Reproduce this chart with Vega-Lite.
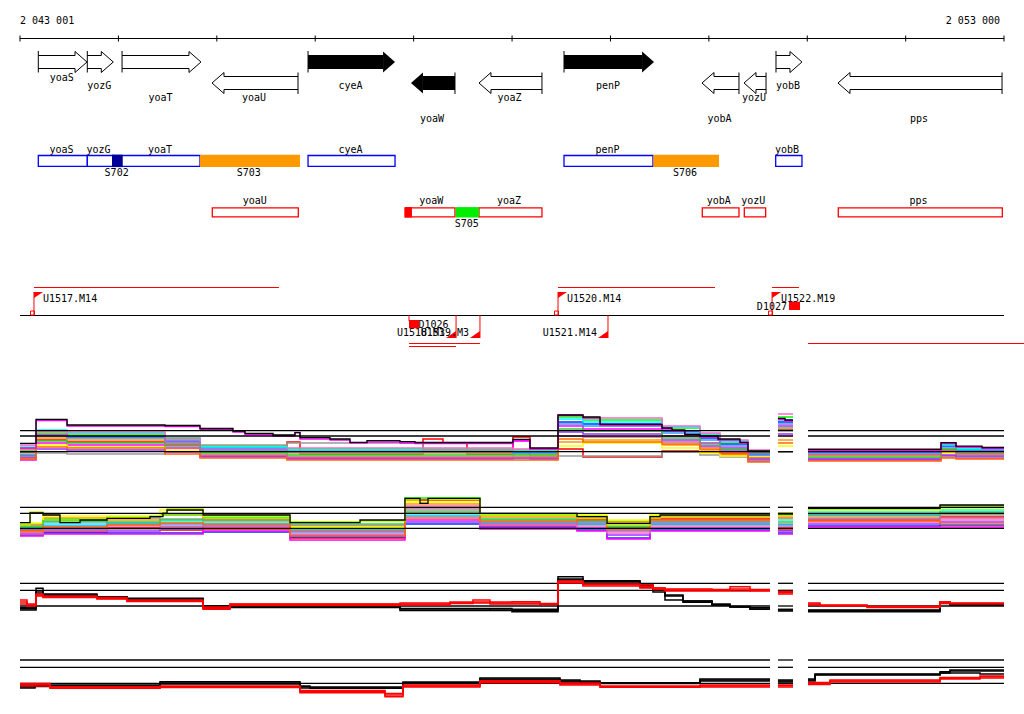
{
"$schema":"https://vega.github.io/schema/vega-lite/v6.json",
"width":1024,"height":714,"padding":0,"autosize":{"type":"none"},
"background":"white",
"config":{"view":{"stroke":null},"text":{"font":"DejaVu Sans Mono","fontSize":10,"color":"black"},"line":{"opacity":1}},
"datasets":{
"axis":[{"x":2043001,"x2":2053000}],
"ticks":[{"x":2043001},{"x":2044001},{"x":2045001},{"x":2046001},{"x":2047001},{"x":2048001},{"x":2049001},{"x":2050001},{"x":2051001},{"x":2052001},{"x":2053000}],
"axislab":[{"x":2043001,"label":"2 043 001"},{"x":2053000,"label":"2 053 000"}],
"genes":[
{"name":"yoaS","x":2043187,"x2":2043682,"strand":"+","hl":0,"lvl":0},
{"name":"yozG","x":2043685,"x2":2043949,"strand":"+","hl":0,"lvl":1},
{"name":"yoaT","x":2044038,"x2":2044840,"strand":"+","hl":0,"lvl":2},
{"name":"yoaU","x":2044952,"x2":2045826,"strand":"-","hl":0,"lvl":2},
{"name":"cyeA","x":2045928,"x2":2046812,"strand":"+","hl":1,"lvl":1},
{"name":"yoaW","x":2046974,"x2":2047421,"strand":"-","hl":1,"lvl":3},
{"name":"yoaZ","x":2047665,"x2":2048305,"strand":"-","hl":0,"lvl":2},
{"name":"penP","x":2048529,"x2":2049444,"strand":"+","hl":1,"lvl":1},
{"name":"yobA","x":2049931,"x2":2050307,"strand":"-","hl":0,"lvl":3},
{"name":"yozU","x":2050358,"x2":2050582,"strand":"-","hl":0,"lvl":2},
{"name":"yobB","x":2050683,"x2":2050947,"strand":"+","hl":0,"lvl":1},
{"name":"pps","x":2051313,"x2":2052980,"strand":"-","hl":0,"lvl":3}],
"fbox":[
{"name":"yoaS","x":2043187,"x2":2043685,"row":"t"},
{"name":"yozG","x":2043685,"x2":2043949,"row":"t"},
{"name":"yoaT","x":2043949,"x2":2044830,"row":"t"},
{"name":"cyeA","x":2045928,"x2":2046812,"row":"t"},
{"name":"penP","x":2048529,"x2":2049433,"row":"t"},
{"name":"yobB","x":2050680,"x2":2050947,"row":"t"},
{"name":"yoaU","x":2044955,"x2":2045829,"row":"b"},
{"name":"yoaW","x":2046913,"x2":2047421,"row":"b"},
{"name":"yoaZ","x":2047665,"x2":2048305,"row":"b"},
{"name":"yobA","x":2049934,"x2":2050307,"row":"b"},
{"name":"yozU","x":2050361,"x2":2050578,"row":"b"},
{"name":"pps","x":2051316,"x2":2052983,"row":"b"}],
"sites":[
{"name":"S702","x":2043936,"x2":2044045,"row":"t"},
{"name":"S703","x":2044830,"x2":2045846,"row":"t"},
{"name":"S706","x":2049436,"x2":2050104,"row":"t"},
{"name":"S705","x":2047428,"x2":2047665,"row":"b"},
{"name":"site-yoaW","x":2046913,"x2":2046984,"row":"b"}],
"flab":[
{"label":"yoaS","x":2043423,"row":"gt"},
{"label":"yozG","x":2043799,"row":"gt"},
{"label":"yoaT","x":2044424,"row":"gt"},
{"label":"cyeA","x":2046359,"row":"gt"},
{"label":"penP","x":2048971,"row":"gt"},
{"label":"yobB","x":2050795,"row":"gt"},
{"label":"S702","x":2043983,"row":"st"},
{"label":"S703","x":2045325,"row":"st"},
{"label":"S706","x":2049758,"row":"st"},
{"label":"yoaU","x":2045386,"row":"gb"},
{"label":"yoaW","x":2047181,"row":"gb"},
{"label":"yoaZ","x":2047970,"row":"gb"},
{"label":"yobA","x":2050101,"row":"gb"},
{"label":"yozU","x":2050452,"row":"gb"},
{"label":"pps","x":2052131,"row":"gb"},
{"label":"S705","x":2047540,"row":"sb"}],
"txl":[
{"name":"U1517.M14","x":2043143,"x2":2045633,"lvl":"up"},
{"name":"U1520.M14","x":2048468,"x2":2050063,"lvl":"up"},
{"name":"U1522.M19","x":2050643,"x2":2050917,"lvl":"up"},
{"name":"U1519.M3","x":2046954,"x2":2047675,"lvl":"dn1"},
{"name":"U1518.M3","x":2046954,"x2":2047432,"lvl":"dn2"},
{"name":"next","x":2051008,"x2":2053203,"lvl":"dn1"}],
"tss":[
{"name":"U1517.M14","x":2043143,"strand":"+"},
{"name":"U1520.M14","x":2048468,"strand":"+"},
{"name":"U1522.M19","x":2050643,"strand":"+"},
{"name":"U1518.M3","x":2047432,"strand":"-"},
{"name":"U1519.M3","x":2047675,"strand":"-"},
{"name":"U1521.M14","x":2048976,"strand":"-"}],
"term":[
{"name":"D1026","x":2046954,"x2":2047056,"side":"below"},
{"name":"D1027","x":2050815,"x2":2050927,"side":"above"}],
"p1c":[
{"x":2043001,"g":1,"s1":14,"s2":22,"s3":18,"s4":10,"s5":24,"s6":16,"s7":13,"s8":20,"s9":12,"s10":25,"s11":15,"s12":19,"s13":21,"s14":11},
{"x":2043164,"g":1,"s1":30,"s2":38,"s3":35,"s4":27,"s5":40,"s6":32,"s7":17,"s8":25,"s9":21,"s10":39,"s11":34,"s12":29,"s13":36,"s14":23},
{"x":2043479,"g":1,"s1":28,"s2":36,"s3":33,"s4":25,"s5":37,"s6":30,"s7":16,"s8":23,"s9":20,"s10":38,"s11":32,"s12":27,"s13":34,"s14":22},
{"x":2044474,"g":1,"s1":25,"s2":31,"s3":29,"s4":22,"s5":32,"s6":27,"s7":32,"s8":20,"s9":18,"s10":30,"s11":28,"s12":24,"s13":26,"s14":16},
{"x":2044830,"g":1,"s1":18,"s2":24,"s3":22,"s4":14,"s5":23,"s6":19,"s7":25,"s8":16,"s9":13,"s10":21,"s11":20,"s12":17,"s13":15,"s14":12},
{"x":2045714,"g":1,"s1":28,"s2":21,"s3":19,"s4":11,"s5":20,"s6":17,"s7":27,"s8":14,"s9":12,"s10":22,"s11":18,"s12":15,"s13":13,"s14":10},
{"x":2045846,"g":1,"s1":16,"s2":21,"s3":19,"s4":11,"s5":20,"s6":17,"s7":27,"s8":14,"s9":12,"s10":22,"s11":18,"s12":15,"s13":13,"s14":10},
{"x":2047096,"g":1,"s1":31,"s2":21,"s3":19,"s4":11,"s5":20,"s6":17,"s7":20,"s8":14,"s9":12,"s10":22,"s11":18,"s12":15,"s13":13,"s14":10},
{"x":2047299,"g":1,"s1":27,"s2":21,"s3":19,"s4":11,"s5":20,"s6":17,"s7":20,"s8":14,"s9":12,"s10":22,"s11":18,"s12":15,"s13":13,"s14":10},
{"x":2047543,"g":1,"s1":16,"s2":21,"s3":19,"s4":11,"s5":20,"s6":17,"s7":20,"s8":14,"s9":12,"s10":22,"s11":18,"s12":15,"s13":13,"s14":10},
{"x":2048010,"g":1,"s1":33,"s2":20,"s3":18,"s4":29,"s5":19,"s6":16,"s7":12,"s8":14,"s9":12,"s10":21,"s11":17,"s12":15,"s13":13,"s14":10},
{"x":2048183,"g":1,"s1":14,"s2":20,"s3":18,"s4":11,"s5":19,"s6":16,"s7":12,"s8":14,"s9":12,"s10":21,"s11":17,"s12":15,"s13":13,"s14":10},
{"x":2048468,"g":1,"s1":21,"s2":53,"s3":48,"s4":44,"s5":51,"s6":28,"s7":14,"s8":24,"s9":38,"s10":55,"s11":46,"s12":41,"s13":34,"s14":31},
{"x":2048722,"g":1,"s1":13,"s2":50,"s3":46,"s4":41,"s5":48,"s6":30,"s7":14,"s8":27,"s9":36,"s10":52,"s11":44,"s12":39,"s13":33,"s14":28},
{"x":2049525,"g":1,"s1":19,"s2":42,"s3":39,"s4":34,"s5":43,"s6":25,"s7":18,"s8":22,"s9":30,"s10":44,"s11":37,"s12":32,"s13":28,"s14":26},
{"x":2049910,"g":1,"s1":18,"s2":35,"s3":32,"s4":27,"s5":36,"s6":20,"s7":15,"s8":17,"s9":24,"s10":37,"s11":30,"s12":26,"s13":23,"s14":21},
{"x":2050114,"g":1,"s1":16,"s2":28,"s3":26,"s4":22,"s5":29,"s6":15,"s7":13,"s8":14,"s9":20,"s10":30,"s11":24,"s12":21,"s13":18,"s14":17},
{"x":2050398,"g":1,"s1":12,"s2":18,"s3":16,"s4":9,"s5":19,"s6":14,"s7":10,"s8":13,"s9":11,"s10":20,"s11":15,"s12":17,"s13":12,"s14":8},
{"x":2050622,"g":1,"s1":12,"s2":18,"s3":16,"s4":9,"s5":19,"s6":14,"s7":10,"s8":13,"s9":11,"s10":20,"s11":15,"s12":17,"s13":12,"s14":8},
{"x":2050703,"g":2,"s1":40,"s2":53,"s3":48,"s4":44,"s5":50,"s6":30,"s7":18,"s8":24,"s9":36,"s10":56,"s11":46,"s12":42,"s13":34,"s14":27},
{"x":2050856,"g":2,"s1":40,"s2":53,"s3":48,"s4":44,"s5":50,"s6":30,"s7":18,"s8":24,"s9":36,"s10":56,"s11":46,"s12":42,"s13":34,"s14":27},
{"x":2051008,"g":3,"s1":15,"s2":20,"s3":18,"s4":10,"s5":19,"s6":16,"s7":12,"s8":14,"s9":11,"s10":21,"s11":17,"s12":13,"s13":15,"s14":9},
{"x":2052360,"g":3,"s1":20,"s2":26,"s3":24,"s4":14,"s5":25,"s6":18,"s7":13,"s8":17,"s9":15,"s10":27,"s11":22,"s12":21,"s13":19,"s14":12},
{"x":2052512,"g":3,"s1":16,"s2":22,"s3":20,"s4":12,"s5":21,"s6":17,"s7":13,"s8":15,"s9":14,"s10":23,"s11":19,"s12":18,"s13":16,"s14":11},
{"x":2053000,"g":3,"s1":16,"s2":22,"s3":20,"s4":12,"s5":21,"s6":17,"s7":13,"s8":15,"s9":14,"s10":23,"s11":19,"s12":18,"s13":16,"s14":11}],
"p1k":[
{"x":2043001,"g":1,"k":26.7,"m":22},
{"x":2043164,"g":1,"k":50.7,"m":49.5},
{"x":2043479,"g":1,"k":45,"m":44},
{"x":2044474,"g":1,"k":44.5,"m":43.5},
{"x":2044830,"g":1,"k":41.5,"m":40.5},
{"x":2045165,"g":1,"k":39,"m":38},
{"x":2045287,"g":1,"k":36.7,"m":35.5},
{"x":2045572,"g":1,"k":35,"m":34},
{"x":2045795,"g":1,"k":37.3,"m":37.5},
{"x":2045846,"g":1,"k":32.3,"m":31},
{"x":2046151,"g":1,"k":31,"m":30},
{"x":2046354,"g":1,"k":27.7,"m":27},
{"x":2046527,"g":1,"k":29.3,"m":28},
{"x":2046862,"g":1,"k":28.3,"m":27},
{"x":2047015,"g":1,"k":27.5,"m":26.5},
{"x":2048010,"g":1,"k":30.7,"m":29.5},
{"x":2048183,"g":1,"k":22,"m":21},
{"x":2048468,"g":1,"k":55,"m":54.5},
{"x":2048722,"g":1,"k":53,"m":52},
{"x":2048895,"g":1,"k":45.7,"m":44.5},
{"x":2049525,"g":1,"k":42,"m":41},
{"x":2049626,"g":1,"k":40,"m":39},
{"x":2049757,"g":1,"k":35.7,"m":35},
{"x":2049910,"g":1,"k":34,"m":33},
{"x":2050094,"g":1,"k":31,"m":30},
{"x":2050317,"g":1,"k":27.7,"m":27},
{"x":2050398,"g":1,"k":19,"m":18},
{"x":2050622,"g":1,"k":19,"m":18},
{"x":2050703,"g":2,"k":51.7,"m":50.5},
{"x":2050775,"g":2,"k":50,"m":49},
{"x":2050856,"g":2,"k":50,"m":49},
{"x":2051008,"g":3,"k":20.7,"m":19.5},
{"x":2052360,"g":3,"k":27.3,"m":26.5},
{"x":2052512,"g":3,"k":23.8,"m":23},
{"x":2052777,"g":3,"k":22.3,"m":21.5},
{"x":2053000,"g":3,"k":22.3,"m":21.5}],
"p1r":[
{"x":2043001,"x2":2050622,"v":39.3},{"x":2043001,"x2":2050622,"v":34},{"x":2043001,"x2":2050622,"v":18.3},
{"x":2050703,"x2":2050856,"v":39.3},{"x":2050703,"x2":2050856,"v":34},{"x":2050703,"x2":2050856,"v":18.3},
{"x":2051008,"x2":2053000,"v":39.3},{"x":2051008,"x2":2053000,"v":34},{"x":2051008,"x2":2053000,"v":18.3}],
"p2c":[
{"x":2043001,"g":1,"s1":20,"s2":26,"s3":15,"s4":14,"s5":22,"s6":25,"s7":24,"s8":27,"s9":17,"s10":18,"s11":21,"s12":23,"s13":16,"s14":19},
{"x":2043235,"g":1,"s1":18,"s2":31,"s3":17,"s4":16,"s5":26,"s6":32,"s7":28,"s8":34,"s9":20,"s10":22,"s11":24,"s12":29,"s13":19,"s14":23},
{"x":2043885,"g":1,"s1":22,"s2":33,"s3":17,"s4":16,"s5":27,"s6":30,"s7":32,"s8":34,"s9":19,"s10":24,"s11":26,"s12":28,"s13":21,"s14":25},
{"x":2044424,"g":1,"s1":20,"s2":35,"s3":17,"s4":16,"s5":28,"s6":36,"s7":31,"s8":40,"s9":21,"s10":24,"s11":26,"s12":30,"s13":23,"s14":27},
{"x":2044861,"g":1,"s1":21,"s2":33,"s3":18,"s4":19,"s5":27,"s6":31,"s7":29,"s8":34,"s9":22,"s10":23,"s11":25,"s12":30,"s13":24,"s14":26},
{"x":2045745,"g":1,"s1":12,"s2":26,"s3":13,"s4":10,"s5":21,"s6":24,"s7":25,"s8":23,"s9":15,"s10":16,"s11":18,"s12":20,"s13":19,"s14":14},
{"x":2046913,"g":1,"s1":50,"s2":52,"s3":26,"s4":30,"s5":36,"s6":46,"s7":40,"s8":48,"s9":28,"s10":44,"s11":34,"s12":38,"s13":42,"s14":32},
{"x":2047675,"g":1,"s1":24,"s2":35,"s3":22,"s4":21,"s5":30,"s6":33,"s7":28,"s8":36,"s9":23,"s10":25,"s11":27,"s12":31,"s13":26,"s14":29},
{"x":2048661,"g":1,"s1":30,"s2":34,"s3":20,"s4":19,"s5":27,"s6":33,"s7":25,"s8":35,"s9":22,"s10":23,"s11":26,"s12":29,"s13":28,"s14":31},
{"x":2048966,"g":1,"s1":22,"s2":29,"s3":12,"s4":11,"s5":26,"s6":28,"s7":24,"s8":30,"s9":15,"s10":17,"s11":20,"s12":23,"s13":19,"s14":21},
{"x":2049403,"g":1,"s1":31,"s2":34,"s3":20,"s4":19,"s5":27,"s6":33,"s7":25,"s8":35,"s9":22,"s10":23,"s11":26,"s12":29,"s13":28,"s14":30},
{"x":2050622,"g":1,"s1":31,"s2":34,"s3":20,"s4":19,"s5":27,"s6":33,"s7":25,"s8":35,"s9":22,"s10":23,"s11":26,"s12":29,"s13":28,"s14":30},
{"x":2050703,"g":2,"s1":20,"s2":36,"s3":17,"s4":16,"s5":30,"s6":34,"s7":26,"s8":37,"s9":19,"s10":22,"s11":25,"s12":28,"s13":23,"s14":32},
{"x":2050856,"g":2,"s1":20,"s2":36,"s3":17,"s4":16,"s5":30,"s6":34,"s7":26,"s8":37,"s9":19,"s10":22,"s11":25,"s12":28,"s13":23,"s14":32},
{"x":2051008,"g":3,"s1":30,"s2":41,"s3":24,"s4":23,"s5":38,"s6":34,"s7":32,"s8":40,"s9":26,"s10":28,"s11":35,"s12":36,"s13":31,"s14":29},
{"x":2052350,"g":3,"s1":33,"s2":44,"s3":25,"s4":23,"s5":40,"s6":36,"s7":35,"s8":42,"s9":28,"s10":30,"s11":37,"s12":38,"s13":32,"s14":26},
{"x":2053000,"g":3,"s1":33,"s2":44,"s3":25,"s4":23,"s5":40,"s6":36,"s7":35,"s8":42,"s9":28,"s10":30,"s11":37,"s12":38,"s13":32,"s14":26}],
"p2k":[
{"x":2043001,"g":1,"k":27.3,"y":25},
{"x":2043103,"g":1,"k":37,"y":38},
{"x":2043235,"g":1,"k":35,"y":36},
{"x":2043407,"g":1,"k":27.3,"y":28},
{"x":2043611,"g":1,"k":30,"y":31},
{"x":2043885,"g":1,"k":31.7,"y":32.5},
{"x":2044322,"g":1,"k":33.3,"y":34},
{"x":2044454,"g":1,"k":36.7,"y":37.5},
{"x":2044495,"g":1,"k":40,"y":41.7},
{"x":2044861,"g":1,"k":35,"y":36},
{"x":2045745,"g":1,"k":27.3,"y":28.3},
{"x":2046456,"g":1,"k":30,"y":29},
{"x":2046913,"g":1,"k":51.7,"y":50},
{"x":2047066,"g":1,"k":46.7,"y":47},
{"x":2047147,"g":1,"k":51.7,"y":50.5},
{"x":2047675,"g":1,"k":36.7,"y":35},
{"x":2048661,"g":1,"k":33.3,"y":32},
{"x":2048966,"g":1,"k":26.7,"y":25},
{"x":2049403,"g":1,"k":33.3,"y":32},
{"x":2049505,"g":1,"k":35,"y":34},
{"x":2050622,"g":1,"k":35,"y":34},
{"x":2050703,"g":2,"k":36,"y":34.5},
{"x":2050856,"g":2,"k":36,"y":34.5},
{"x":2051008,"g":3,"k":41.7,"y":40.5},
{"x":2052350,"g":3,"k":45,"y":43.5},
{"x":2053000,"g":3,"k":45,"y":43.5}],
"p2r":[
{"x":2043001,"x2":2050622,"v":42.7},{"x":2043001,"x2":2050622,"v":36.7},{"x":2043001,"x2":2050622,"v":21.7},
{"x":2050703,"x2":2050856,"v":42.7},{"x":2050703,"x2":2050856,"v":36.7},{"x":2050703,"x2":2050856,"v":21.7},
{"x":2051008,"x2":2053000,"v":42.7},{"x":2051008,"x2":2053000,"v":36.7},{"x":2051008,"x2":2053000,"v":21.7}],
"p3":[
{"x":2043001,"g":1,"k1":12.3,"k2":10,"k3":11.3,"r1":20,"r2":18,"r3":16},
{"x":2043072,"g":1,"k1":12.3,"k2":10,"k3":11.3,"r1":15,"r2":16,"r3":14},
{"x":2043164,"g":1,"k1":31.7,"k2":29,"k3":27,"r1":26,"r2":24,"r3":25},
{"x":2043235,"g":1,"k1":25,"k2":26,"k3":24.5,"r1":24,"r2":23,"r3":22.5},
{"x":2043783,"g":1,"k1":23.3,"k2":23,"k3":22.5,"r1":22.5,"r2":21.5,"r3":21},
{"x":2044088,"g":1,"k1":21.7,"k2":21,"k3":20,"r1":20,"r2":19,"r3":18.5},
{"x":2044861,"g":1,"k1":14,"k2":13,"k3":12,"r1":10.7,"r2":12,"r3":13},
{"x":2045135,"g":1,"k1":13.5,"k2":12.5,"k3":13,"r1":15.7,"r2":14.5,"r3":16},
{"x":2046862,"g":1,"k1":11.5,"k2":9.5,"k3":11,"r1":16,"r2":15,"r3":17},
{"x":2047370,"g":1,"k1":11.5,"k2":9.5,"k3":11,"r1":18,"r2":17,"r3":16.5},
{"x":2047604,"g":1,"k1":11.5,"k2":9.5,"k3":11,"r1":20,"r2":18,"r3":17},
{"x":2047777,"g":1,"k1":11.5,"k2":9.5,"k3":10,"r1":18,"r2":17,"r3":16},
{"x":2048000,"g":1,"k1":10.7,"k2":9.5,"k3":8.3,"r1":18.3,"r2":17,"r3":16},
{"x":2048285,"g":1,"k1":10.7,"k2":9.5,"k3":8.3,"r1":15.7,"r2":16.5,"r3":15.5},
{"x":2048468,"g":1,"k1":43.3,"k2":40,"k3":41,"r1":39,"r2":37,"r3":38},
{"x":2048722,"g":1,"k1":39.3,"k2":37,"k3":38.7,"r1":35.3,"r2":34,"r3":36},
{"x":2049301,"g":1,"k1":35,"k2":33,"k3":34,"r1":35.3,"r2":32,"r3":33.5},
{"x":2049433,"g":1,"k1":30,"k2":28,"k3":30,"r1":32,"r2":30.5,"r3":32},
{"x":2049555,"g":1,"k1":20,"k2":24,"k3":25,"r1":30,"r2":29,"r3":31},
{"x":2049738,"g":1,"k1":17.7,"k2":19,"k3":19,"r1":30,"r2":29,"r3":31},
{"x":2050033,"g":1,"k1":15,"k2":15,"k3":16,"r1":30,"r2":29,"r3":30.5},
{"x":2050216,"g":1,"k1":13.5,"k2":13,"k3":13,"r1":33.3,"r2":29,"r3":31},
{"x":2050419,"g":1,"k1":12.3,"k2":11,"k3":10.7,"r1":29,"r2":29.5,"r3":30.5},
{"x":2050622,"g":1,"k1":12.3,"k2":11,"k3":10.7,"r1":29,"r2":29.5,"r3":30.5},
{"x":2050703,"g":2,"k1":10.7,"k2":9,"k3":10,"r1":27.3,"r2":28.5,"r3":26},
{"x":2050856,"g":2,"k1":10.7,"k2":9,"k3":10,"r1":27.3,"r2":28.5,"r3":26},
{"x":2051008,"g":3,"k1":10,"k2":8.3,"k3":9.5,"r1":17,"r2":16,"r3":15},
{"x":2051130,"g":3,"k1":10,"k2":8.3,"k3":9.5,"r1":15,"r2":14.5,"r3":14},
{"x":2051608,"g":3,"k1":10,"k2":8.3,"k3":9.5,"r1":13.3,"r2":12.5,"r3":13.8},
{"x":2052350,"g":3,"k1":17,"k2":16.5,"k3":18,"r1":18.3,"r2":17.5,"r3":16.8},
{"x":2052451,"g":3,"k1":15,"k2":15.5,"k3":16,"r1":16.3,"r2":17,"r3":16.5},
{"x":2053000,"g":3,"k1":15,"k2":15.5,"k3":16,"r1":16.3,"r2":17,"r3":16.5}],
"p3r":[
{"x":2043001,"x2":2050622,"v":36.7},{"x":2043001,"x2":2050622,"v":29.7},{"x":2043001,"x2":2050622,"v":14},
{"x":2050703,"x2":2050856,"v":36.7},{"x":2050703,"x2":2050856,"v":29.7},{"x":2050703,"x2":2050856,"v":14},
{"x":2051008,"x2":2053000,"v":36.7},{"x":2051008,"x2":2053000,"v":29.7},{"x":2051008,"x2":2053000,"v":14}],
"p4":[
{"x":2043001,"g":1,"k1":13.3,"k2":15,"k3":12,"r1":15.7,"r2":14,"r3":16.5},
{"x":2043153,"g":1,"k1":15,"k2":14,"k3":13.5,"r1":15.7,"r2":14,"r3":16.5},
{"x":2043306,"g":1,"k1":15,"k2":14,"k3":13.5,"r1":13.3,"r2":12,"r3":11.7},
{"x":2044424,"g":1,"k1":18.3,"k2":17,"k3":16,"r1":13.3,"r2":12.5,"r3":14},
{"x":2045846,"g":1,"k1":13.3,"k2":12,"k3":14,"r1":7.3,"r2":8.5,"r3":9.5},
{"x":2045948,"g":1,"k1":11.7,"k2":12,"k3":13,"r1":7.3,"r2":8.5,"r3":9.5},
{"x":2046710,"g":1,"k1":11.7,"k2":12,"k3":13,"r1":3.3,"r2":5,"r3":6.5},
{"x":2046893,"g":1,"k1":17.3,"k2":18,"k3":16.5,"r1":15,"r2":13,"r3":14},
{"x":2047675,"g":1,"k1":21,"k2":22,"k3":20,"r1":18.3,"r2":19.3,"r3":17.3},
{"x":2048488,"g":1,"k1":20,"k2":18,"k3":19,"r1":17,"r2":16,"r3":15},
{"x":2048692,"g":1,"k1":17.3,"k2":18,"k3":19,"r1":17,"r2":16,"r3":15},
{"x":2048895,"g":1,"k1":17.3,"k2":16.5,"k3":17,"r1":12.7,"r2":14,"r3":13},
{"x":2049910,"g":1,"k1":20,"k2":19,"k3":21,"r1":14,"r2":15,"r3":13},
{"x":2050622,"g":1,"k1":20,"k2":19,"k3":21,"r1":14,"r2":15,"r3":13},
{"x":2050703,"g":2,"k1":20,"k2":19,"k3":18,"r1":15,"r2":14.3,"r3":13},
{"x":2050856,"g":2,"k1":20,"k2":19,"k3":18,"r1":15,"r2":14.3,"r3":13},
{"x":2051008,"g":3,"k1":20,"k2":21,"k3":19,"r1":16.7,"r2":17.5,"r3":15.5},
{"x":2051080,"g":3,"k1":25,"k2":26,"k3":25.5,"r1":16.7,"r2":17.5,"r3":15.5},
{"x":2051232,"g":3,"k1":25,"k2":26,"k3":25.5,"r1":20,"r2":19,"r3":18},
{"x":2052350,"g":3,"k1":28.3,"k2":27,"k3":27,"r1":21.7,"r2":22.5,"r3":21},
{"x":2052451,"g":3,"k1":30,"k2":29,"k3":27,"r1":21.7,"r2":22.5,"r3":21},
{"x":2052756,"g":3,"k1":30,"k2":29,"k3":26,"r1":23.3,"r2":22,"r3":24},
{"x":2053000,"g":3,"k1":30,"k2":29,"k3":26,"r1":23.3,"r2":22,"r3":24}],
"p4r":[
{"x":2043001,"x2":2050622,"v":40},{"x":2043001,"x2":2050622,"v":32.7},{"x":2043001,"x2":2050622,"v":16.7},
{"x":2050703,"x2":2050856,"v":40},{"x":2050703,"x2":2050856,"v":32.7},{"x":2050703,"x2":2050856,"v":16.7},
{"x":2051008,"x2":2053000,"v":40},{"x":2051008,"x2":2053000,"v":32.7},{"x":2051008,"x2":2053000,"v":16.7}]
},
"encoding":{"x":{"field":"x","type":"quantitative","scale":{"domain":[2042797.8,2053203.2],"nice":false,"zero":false},"axis":null}},
"layer":[
{"layer":[
{"data":{"name":"axis"},"mark":{"type":"rule","color":"black"},"encoding":{"x2":{"field":"x2"},"y":{"datum":38.5,"type":"quantitative","scale":{"domain":[0,714],"range":[0,714],"nice":false,"zero":false},"axis":null}}},
{"data":{"name":"ticks"},"mark":{"type":"rule","color":"black"},"encoding":{"y":{"datum":35.5,"type":"quantitative","axis":null},"y2":{"datum":41.5}}},
{"data":{"name":"axislab"},"transform":[{"filter":"datum.x < 2050000"}],"mark":{"type":"text","align":"left","baseline":"alphabetic"},"encoding":{"text":{"field":"label"},"y":{"datum":24,"type":"quantitative","axis":null}}},
{"data":{"name":"axislab"},"transform":[{"filter":"datum.x > 2050000"}],"mark":{"type":"text","align":"right","baseline":"alphabetic","dx":-4},"encoding":{"text":{"field":"label"},"y":{"datum":24,"type":"quantitative","axis":null}}},
{"data":{"name":"genes"},"transform":[{"filter":"datum.strand=='+' && datum.hl==1"}],"mark":{"type":"rect","color":"black","x2Offset":-12},"encoding":{"x2":{"field":"x2"},"y":{"datum":55,"type":"quantitative","axis":null},"y2":{"datum":69}}},
{"data":{"name":"genes"},"transform":[{"filter":"datum.strand=='+' && datum.hl==0"}],"mark":{"type":"rule","color":"black","x2Offset":-12},"encoding":{"x2":{"field":"x2"},"y":{"datum":55.5,"type":"quantitative","axis":null}}},
{"data":{"name":"genes"},"transform":[{"filter":"datum.strand=='+' && datum.hl==0"}],"mark":{"type":"rule","color":"black","x2Offset":-12},"encoding":{"x2":{"field":"x2"},"y":{"datum":68.5,"type":"quantitative","axis":null}}},
{"data":{"name":"genes"},"transform":[{"filter":"datum.strand=='+'"}],"mark":{"type":"rule","color":"black"},"encoding":{"y":{"datum":51,"type":"quantitative","axis":null},"y2":{"datum":72.5}}},
{"data":{"name":"genes"},"transform":[{"filter":"datum.strand=='+' && datum.hl==0"}],"mark":{"type":"point","shape":"M-0.57,-0.62L-0.57,-1L0.57,0L-0.57,1L-0.57,0.62","size":441,"filled":false,"color":"black","strokeWidth":1,"opacity":1,"xOffset":-6},"encoding":{"x":{"field":"x2","type":"quantitative"},"y":{"datum":62,"type":"quantitative","axis":null}}},
{"data":{"name":"genes"},"transform":[{"filter":"datum.strand=='+' && datum.hl==1"}],"mark":{"type":"point","shape":"M-0.57,-1L0.57,0L-0.57,1Z","size":441,"filled":true,"color":"black","opacity":1,"xOffset":-6},"encoding":{"x":{"field":"x2","type":"quantitative"},"y":{"datum":62,"type":"quantitative","axis":null}}},
{"data":{"name":"genes"},"transform":[{"filter":"datum.strand=='-' && datum.hl==1"}],"mark":{"type":"rect","color":"black","x2Offset":12},"encoding":{"x":{"field":"x2","type":"quantitative"},"x2":{"field":"x"},"y":{"datum":76,"type":"quantitative","axis":null},"y2":{"datum":90}}},
{"data":{"name":"genes"},"transform":[{"filter":"datum.strand=='-' && datum.hl==0"}],"mark":{"type":"rule","color":"black","x2Offset":12},"encoding":{"x":{"field":"x2","type":"quantitative"},"x2":{"field":"x"},"y":{"datum":76.5,"type":"quantitative","axis":null}}},
{"data":{"name":"genes"},"transform":[{"filter":"datum.strand=='-' && datum.hl==0"}],"mark":{"type":"rule","color":"black","x2Offset":12},"encoding":{"x":{"field":"x2","type":"quantitative"},"x2":{"field":"x"},"y":{"datum":89.5,"type":"quantitative","axis":null}}},
{"data":{"name":"genes"},"transform":[{"filter":"datum.strand=='-'"}],"mark":{"type":"rule","color":"black"},"encoding":{"x":{"field":"x2","type":"quantitative"},"y":{"datum":72.5,"type":"quantitative","axis":null},"y2":{"datum":94}}},
{"data":{"name":"genes"},"transform":[{"filter":"datum.strand=='-' && datum.hl==0"}],"mark":{"type":"point","shape":"M0.57,-0.62L0.57,-1L-0.57,0L0.57,1L0.57,0.62","size":441,"filled":false,"color":"black","strokeWidth":1,"opacity":1,"xOffset":6},"encoding":{"y":{"datum":83,"type":"quantitative","axis":null}}},
{"data":{"name":"genes"},"transform":[{"filter":"datum.strand=='-' && datum.hl==1"}],"mark":{"type":"point","shape":"M0.57,-1L-0.57,0L0.57,1Z","size":441,"filled":true,"color":"black","opacity":1,"xOffset":6},"encoding":{"y":{"datum":83,"type":"quantitative","axis":null}}},
{"data":{"name":"genes"},"transform":[{"calculate":"(datum.x+datum.x2)/2-10","as":"mid"},{"calculate":"[80.5,89.3,101,121.7][datum.lvl]","as":"ly"}],"mark":{"type":"text","align":"center","baseline":"alphabetic"},"encoding":{"x":{"field":"mid","type":"quantitative"},"y":{"field":"ly","type":"quantitative","axis":null},"text":{"field":"name"}}},
{"data":{"name":"fbox"},"transform":[{"filter":"datum.row=='t'"}],"mark":{"type":"rect","fill":"white","stroke":"#0000ff","strokeWidth":1.3},"encoding":{"x2":{"field":"x2"},"y":{"datum":155.5,"type":"quantitative","axis":null},"y2":{"datum":166.3}}},
{"data":{"name":"fbox"},"transform":[{"filter":"datum.row=='b'"}],"mark":{"type":"rect","fill":"white","stroke":"#ff0000","strokeWidth":1.3},"encoding":{"x2":{"field":"x2"},"y":{"datum":207.8,"type":"quantitative","axis":null},"y2":{"datum":216.8}}},
{"data":{"name":"sites"},"transform":[{"calculate":"datum.row=='t' ? 154.7 : 207.1","as":"sy"},{"calculate":"datum.row=='t' ? 167.1 : 217.5","as":"sy2"}],"mark":{"type":"rect","opacity":1},"encoding":{"x2":{"field":"x2"},"y":{"field":"sy","type":"quantitative","axis":null},"y2":{"field":"sy2"},"fill":{"field":"name","type":"nominal","legend":null,"scale":{"domain":["S702","S703","S706","S705","site-yoaW"],"range":["#000099","#ff9900","#ff9900","#00ee00","#ff0000"]}}}},
{"data":{"name":"flab"},"transform":[{"calculate":"datum.row=='gt' ? 153.3 : datum.row=='st' ? 176 : datum.row=='gb' ? 204.3 : 226.7","as":"ly"}],"mark":{"type":"text","align":"center","baseline":"alphabetic"},"encoding":{"y":{"field":"ly","type":"quantitative","axis":null},"text":{"field":"label"}}},
{"data":{"name":"axis"},"mark":{"type":"rule","color":"black"},"encoding":{"x2":{"field":"x2"},"y":{"datum":315.5,"type":"quantitative","axis":null}}},
{"data":{"name":"txl"},"transform":[{"calculate":"datum.lvl=='up' ? 287.5 : datum.lvl=='dn1' ? 343.5 : 346.5","as":"ly"}],"mark":{"type":"rule","color":"#ff0000"},"encoding":{"x2":{"field":"x2"},"y":{"field":"ly","type":"quantitative","axis":null}}},
{"data":{"name":"tss"},"transform":[{"filter":"datum.strand=='+'"}],"mark":{"type":"rule","color":"#ff0000"},"encoding":{"y":{"datum":292,"type":"quantitative","axis":null},"y2":{"datum":315}}},
{"data":{"name":"tss"},"transform":[{"filter":"datum.strand=='+'"}],"mark":{"type":"point","shape":"M-1,-0.67L1,-0.67L-1,0.67Z","size":81,"filled":true,"color":"#ff0000","opacity":1,"xOffset":4.5},"encoding":{"y":{"datum":295,"type":"quantitative","axis":null}}},
{"data":{"name":"tss"},"transform":[{"filter":"datum.strand=='+'"}],"mark":{"type":"point","shape":"square","size":16,"filled":false,"color":"#ff0000","strokeWidth":1,"opacity":1,"xOffset":-1.5},"encoding":{"y":{"datum":313,"type":"quantitative","axis":null}}},
{"data":{"name":"tss"},"transform":[{"filter":"datum.strand=='+'"}],"mark":{"type":"text","align":"left","baseline":"alphabetic","dx":9},"encoding":{"y":{"datum":301.7,"type":"quantitative","axis":null},"text":{"field":"name"}}},
{"data":{"name":"tss"},"transform":[{"filter":"datum.strand=='-'"}],"mark":{"type":"rule","color":"#ff0000"},"encoding":{"y":{"datum":315,"type":"quantitative","axis":null},"y2":{"datum":338}}},
{"data":{"name":"tss"},"transform":[{"filter":"datum.strand=='-'"}],"mark":{"type":"point","shape":"M1,-0.7L1,0.7L-1,0.7Z","size":100,"filled":true,"color":"#ff0000","opacity":1,"xOffset":-5},"encoding":{"y":{"datum":334.5,"type":"quantitative","axis":null}}},
{"data":{"name":"tss"},"transform":[{"filter":"datum.strand=='-'"}],"mark":{"type":"text","align":"right","baseline":"alphabetic","dx":-11},"encoding":{"y":{"datum":335.7,"type":"quantitative","axis":null},"text":{"field":"name"}}},
{"data":{"name":"term"},"transform":[{"calculate":"datum.side=='below' ? 320 : 301.7","as":"ty"},{"calculate":"datum.side=='below' ? 328.3 : 310","as":"ty2"}],"mark":{"type":"rect","color":"#ff0000","opacity":1},"encoding":{"x2":{"field":"x2"},"y":{"field":"ty","type":"quantitative","axis":null},"y2":{"field":"ty2"}}},
{"data":{"name":"term"},"transform":[{"filter":"datum.side=='below'"}],"mark":{"type":"rule","color":"#ff0000"},"encoding":{"y":{"datum":315,"type":"quantitative","axis":null},"y2":{"datum":321}}},
{"data":{"name":"term"},"transform":[{"filter":"datum.side=='below'"}],"mark":{"type":"text","align":"left","baseline":"alphabetic","dx":9.5},"encoding":{"y":{"datum":327.7,"type":"quantitative","axis":null},"text":{"field":"name"}}},
{"data":{"name":"term"},"transform":[{"filter":"datum.side=='above'"}],"mark":{"type":"text","align":"right","baseline":"alphabetic","dx":-2},"encoding":{"y":{"datum":310,"type":"quantitative","axis":null},"text":{"field":"name"}}}
]},
{"layer":[
{"data":{"name":"p1c"},"transform":[{"fold":["s1","s2","s3","s4","s5","s6","s7","s8","s9","s10","s11","s12","s13","s14"],"as":["s","v"]}],"mark":{"type":"line","interpolate":"step-after","strokeWidth":1.5,"opacity":1},"encoding":{"y":{"field":"v","type":"quantitative","scale":{"domain":[0,70],"range":[470,400],"nice":false,"zero":false},"axis":null},"color":{"field":"s","type":"nominal","legend":null,"scale":{"domain":["s1","s2","s3","s4","s5","s6","s7","s8","s9","s10","s11","s12","s13","s14","k","m","y","k1","k2","k3","r1","r2","r3"],"range":["#ff0000","#00ff00","#0033ff","#ff00ff","#00ffff","#ff9900","#999999","#ffff00","#9933ff","#ff66cc","#3399ff","#33cc33","#cc6699","#ff6600","#000000","#ff00ff","#bbee00","#000000","#000000","#000000","#ff0000","#ff0000","#ff0000"]}},"detail":{"field":"g","type":"nominal"}}},
{"data":{"name":"p1k"},"transform":[{"fold":["m","k"],"as":["s","v"]}],"mark":{"type":"line","interpolate":"step-after","strokeWidth":1.3,"opacity":1},"encoding":{"y":{"field":"v","type":"quantitative","axis":null},"color":{"field":"s","type":"nominal","legend":null},"detail":{"field":"g","type":"nominal"}}},
{"data":{"name":"p1r"},"mark":{"type":"rule","color":"black","strokeWidth":1.3},"encoding":{"x2":{"field":"x2"},"y":{"field":"v","type":"quantitative","axis":null}}}
]},
{"layer":[
{"data":{"name":"p2c"},"transform":[{"fold":["s1","s2","s3","s4","s5","s6","s7","s8","s9","s10","s11","s12","s13","s14"],"as":["s","v"]}],"mark":{"type":"line","interpolate":"step-after","strokeWidth":1.5,"opacity":1},"encoding":{"y":{"field":"v","type":"quantitative","scale":{"domain":[0,70],"range":[550,480],"nice":false,"zero":false},"axis":null},"color":{"field":"s","type":"nominal","legend":null},"detail":{"field":"g","type":"nominal"}}},
{"data":{"name":"p2k"},"transform":[{"fold":["y","k"],"as":["s","v"]}],"mark":{"type":"line","interpolate":"step-after","strokeWidth":1.3,"opacity":1},"encoding":{"y":{"field":"v","type":"quantitative","axis":null},"color":{"field":"s","type":"nominal","legend":null},"detail":{"field":"g","type":"nominal"}}},
{"data":{"name":"p2r"},"mark":{"type":"rule","color":"black","strokeWidth":1.3},"encoding":{"x2":{"field":"x2"},"y":{"field":"v","type":"quantitative","axis":null}}}
]},
{"layer":[
{"data":{"name":"p3r"},"mark":{"type":"rule","color":"black","strokeWidth":1.3},"encoding":{"x2":{"field":"x2"},"y":{"field":"v","type":"quantitative","scale":{"domain":[0,70],"range":[620,550],"nice":false,"zero":false},"axis":null}}},
{"data":{"name":"p3"},"transform":[{"fold":["k1","k2","k3","r1","r2","r3"],"as":["s","v"]}],"mark":{"type":"line","interpolate":"step-after","strokeWidth":1.5,"opacity":1},"encoding":{"y":{"field":"v","type":"quantitative","axis":null},"color":{"field":"s","type":"nominal","legend":null},"detail":{"field":"g","type":"nominal"}}}
]},
{"layer":[
{"data":{"name":"p4r"},"mark":{"type":"rule","color":"black","strokeWidth":1.3},"encoding":{"x2":{"field":"x2"},"y":{"field":"v","type":"quantitative","scale":{"domain":[0,70],"range":[700,630],"nice":false,"zero":false},"axis":null}}},
{"data":{"name":"p4"},"transform":[{"fold":["k1","k2","k3","r1","r2","r3"],"as":["s","v"]}],"mark":{"type":"line","interpolate":"step-after","strokeWidth":1.5,"opacity":1},"encoding":{"y":{"field":"v","type":"quantitative","axis":null},"color":{"field":"s","type":"nominal","legend":null},"detail":{"field":"g","type":"nominal"}}}
]}
],
"resolve":{"scale":{"y":"independent"}}
}
